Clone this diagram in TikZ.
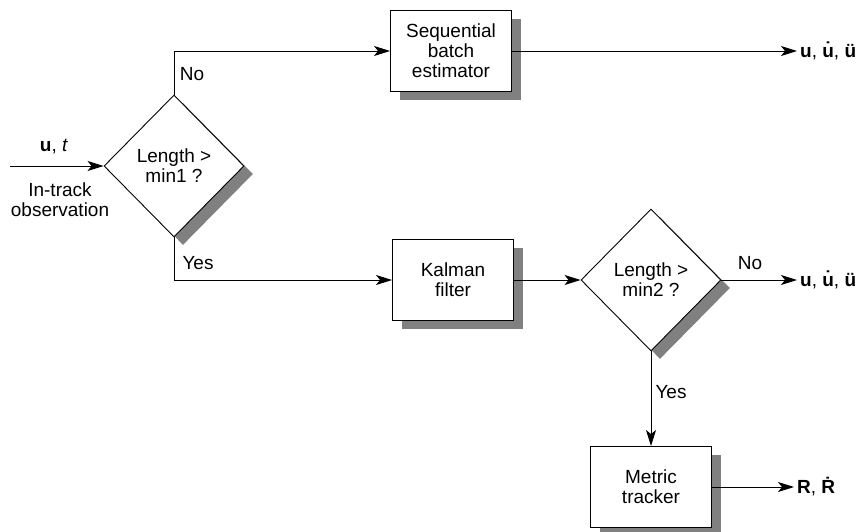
\documentclass[tikz,border=0pt]{standalone}
\usepackage{fontspec}
\setmainfont{Liberation Sans}
\usetikzlibrary{arrows.meta,shapes.geometric,shadows}
\begin{document}
\begin{tikzpicture}[x=1pt,y=-1pt,
  every node/.style={font=\fontsize{19}{20}\selectfont},
  shad/.style={drop shadow={shadow xshift=9pt,shadow yshift=-8pt,fill=black!50,opacity=1}},
  box/.style={draw,fill=white,line width=0.9pt,minimum width=121pt,minimum height=81pt,
    align=center,inner sep=0pt,shad},
  dec/.style={diamond,draw,fill=white,line width=0.9pt,minimum width=140pt,minimum height=142pt,
    inner sep=0pt,align=center,shad},
  arr/.style={-{Stealth[length=16pt,width=10pt,inset=4pt]},line width=0.9pt},
  lbl/.style={inner sep=0pt},
  outl/.style={anchor=west,inner sep=3pt}]
\useasboundingbox (0,0) rectangle (868,531);
\node[box] (seq) at (451,51) {Sequential\\batch\\estimator};
\node[dec] (d1) at (174,166) {Length >\\min1 ?};
\node[box] (kal) at (453,280) {Kalman\\filter};
\node[dec] (d2) at (651,280) {Length >\\min2 ?};
\node[box] (met) at (651,487) {Metric\\tracker};
\coordinate (in) at (10,166);
\node[outl] (o1) at (797,51) {\textbf{u}, \textbf{\.u}, \textbf{ü}};
\node[outl] (o2) at (797,280) {\textbf{u}, \textbf{\.u}, \textbf{ü}};
\node[outl] (o3) at (794,487) {\textbf{R}, \textbf{\.R}};
\node[lbl] (ut) at (54,147) {\textbf{u}, \textit{t}};
\node[lbl,align=center] (obs) at (60,200) {In-track\\observation};
\node[lbl] (no1) at (192,74) {No};
\node[lbl] (yes1) at (198,263) {Yes};
\node[lbl] (no2) at (750,263) {No};
\node[lbl] (yes2) at (671,392) {Yes};
\draw[arr] (in) -- (d1.west);
\draw[arr] (d1.north) |- (seq.west);
\draw[arr] (seq.east) -- (o1.west);
\draw[arr] (d1.south) |- (kal.west);
\draw[arr] (kal.east) -- (d2.west);
\draw[arr] (d2.east) -- (o2.west);
\draw[arr] (d2.south) -- (met.north);
\draw[arr] (met.east) -- (o3.west);
\end{tikzpicture}
\end{document}
